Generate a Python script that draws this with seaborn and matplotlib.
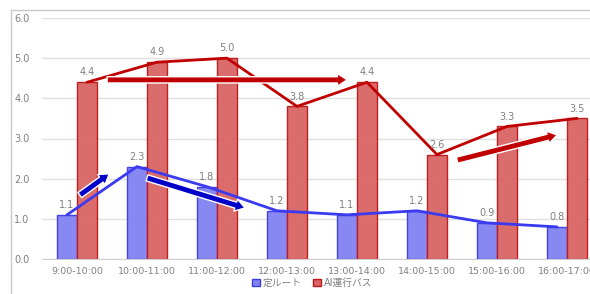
import numpy as np
import pandas as pd
import matplotlib
matplotlib.use("Agg")
import matplotlib.pyplot as plt
from matplotlib.patches import Rectangle
import seaborn as sns

# data
time_slots = ["9:00-10:00", "10:00-11:00", "11:00-12:00", "12:00-13:00",
              "13:00-14:00", "14:00-15:00", "15:00-16:00", "16:00-17:00"]
fixed_route = [1.1, 2.3, 1.8, 1.2, 1.1, 1.2, 0.9, 0.8]
ai_bus = [4.4, 4.9, 5.0, 3.8, 4.4, 2.6, 3.3, 3.5]
series_names = ["定ルート", "AI運行バス"]

# decorative trend arrows (start, end) in data coords
blue_arrows = [((0.04, 1.59), (0.46, 2.12)), ((1.0, 2.02), (2.4, 1.27))]
red_arrows = [((0.43, 4.46), (3.86, 4.46)), ((5.43, 2.46), (6.86, 3.09))]

df = pd.DataFrame({
    "slot": time_slots * 2,
    "value": fixed_route + ai_bus,
    "series": [series_names[0]] * len(time_slots) + [series_names[1]] * len(time_slots),
})

sns.set_style("white")
plt.rcParams['font.family'] = ['DejaVu Sans', 'Noto Sans CJK JP']

fig = plt.figure(figsize=(5.9, 2.94), dpi=100)
ax = fig.add_axes([42 / 590, 35 / 294, 560 / 590, 241 / 294])

# outer frame
fig.patches.append(Rectangle((11 / 590, -0.1), 1.0, 1 - 10 / 294 + 0.1,
                             transform=fig.transFigure, fill=False,
                             ec="#c8c8c8", lw=1.0, zorder=0))

fill_cols = ["#8282f2", "#d96464"]
edge_cols = ["#3b3be6", "#c01818"]
sns.barplot(data=df, x="slot", y="value", hue="series", palette=fill_cols,
            width=0.571, saturation=1, ax=ax, legend=False, zorder=2)
nb = len(time_slots)
for k, p in enumerate(ax.patches[:2 * nb]):
    p.set_edgecolor(edge_cols[k // nb])
    p.set_linewidth(1.0)
    p.set_alpha(0.95)

off = 0.571 / 4
xs = np.arange(nb)
sns.lineplot(x=xs - off, y=fixed_route, color="#3a3af0", lw=2, ax=ax, zorder=4)
sns.lineplot(x=xs + off, y=ai_bus, color="#c00000", lw=2, ax=ax, zorder=4)

# value labels
for i in range(nb):
    ax.text(i - off, fixed_route[i] + 0.12, f"{fixed_route[i]:.1f}", ha="center",
            va="bottom", fontsize=7, color="#808080", zorder=5)
    ax.text(i + off, ai_bus[i] + 0.12, f"{ai_bus[i]:.1f}", ha="center",
            va="bottom", fontsize=7, color="#808080", zorder=5)

def draw_arrow(start, end, col):
    ax.annotate("", xy=end, xytext=start, zorder=6,
                arrowprops=dict(arrowstyle="simple,head_length=7,head_width=9,tail_width=4.5",
                                mutation_scale=1, fc=col, ec="white", lw=1,
                                shrinkA=0, shrinkB=0))

for s, e in blue_arrows:
    draw_arrow(s, e, "#0000c8")
for s, e in red_arrows:
    draw_arrow(s, e, "#c00000")

ax.set_ylim(0, 6)
ax.set_xlim(-0.5, nb - 0.5)
ax.set_yticks(np.arange(0, 7, 1.0))
ax.set_yticklabels([f"{v:.1f}" for v in np.arange(0, 7, 1.0)])
ax.yaxis.grid(True, color="#e0e0e0", lw=1)
ax.set_axisbelow(True)
ax.set_xlabel("")
ax.set_ylabel("")
for s in ["top", "right", "left"]:
    ax.spines[s].set_visible(False)
ax.spines["bottom"].set_color("#d0d0d0")
ax.tick_params(axis="y", length=0, labelsize=7, labelcolor="#808080", pad=9)
ax.tick_params(axis="x", length=0, labelsize=6.8, labelcolor="#808080", pad=6)
ax.set_xticks(np.arange(nb) + 0.5, minor=True)
ax.tick_params(axis="x", which="minor", length=4, color="#d0d0d0")

handles = [Rectangle((0, 0), 1, 1, fc=fill_cols[k], ec=edge_cols[k], lw=1) for k in range(2)]
fig.legend(handles, series_names, loc="center", bbox_to_anchor=(312 / 590, 1 - 283 / 294),
           ncol=2, frameon=False, fontsize=7, handlelength=0.8, handleheight=0.8,
           handletextpad=0.3, columnspacing=1.2, labelcolor="#808080")

fig.savefig("out.png", dpi=100)
